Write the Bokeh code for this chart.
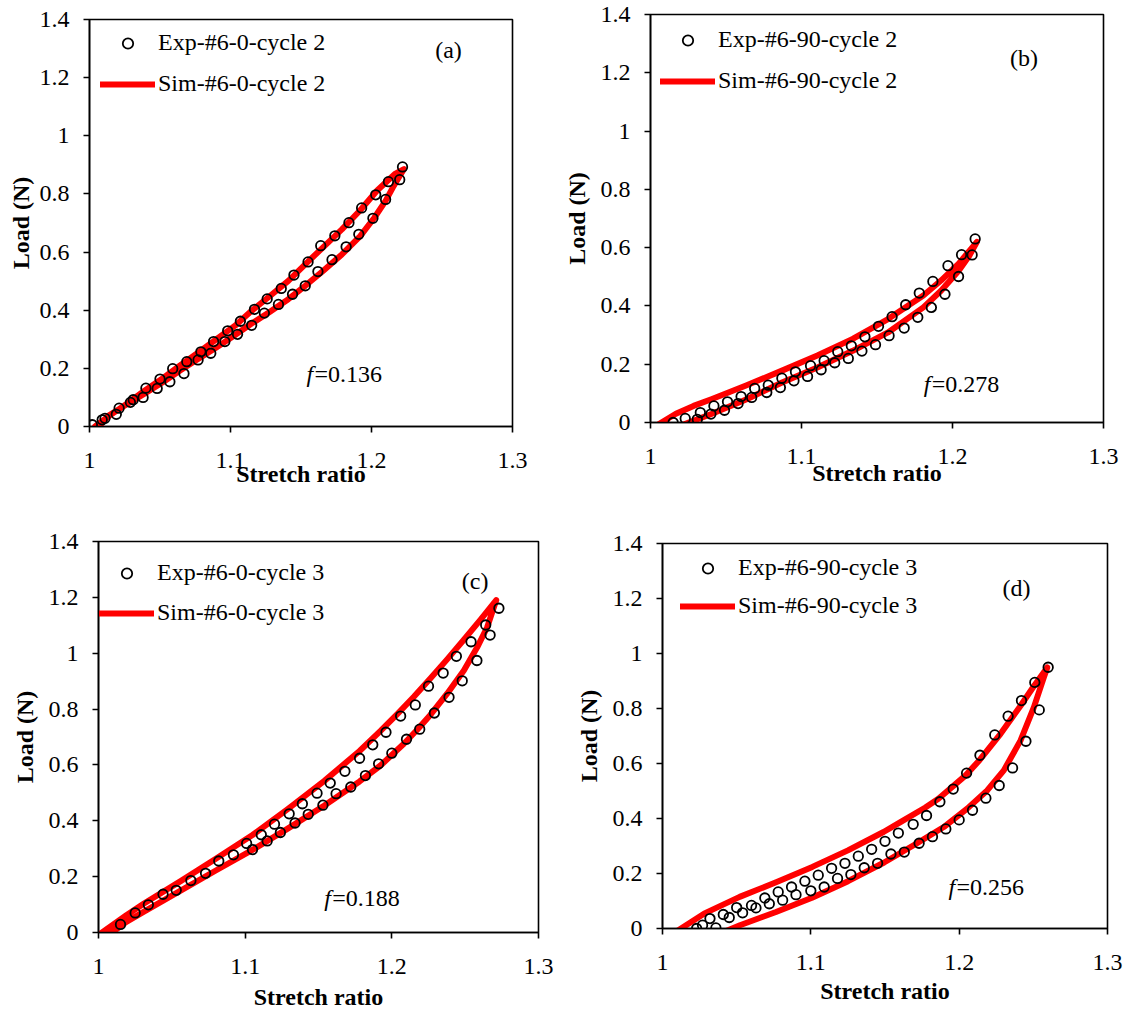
from bokeh.plotting import figure
from bokeh.models import Range1d, FixedTicker, Legend, LegendItem, Label
from bokeh.layouts import column, row
from bokeh.embed import file_html
from bokeh.resources import INLINE

# ---------------- data ----------------
x_ticks = [1.0, 1.1, 1.2, 1.3]
x_tick_labels = ["1", "1.1", "1.2", "1.3"]
y_ticks = [0.0, 0.2, 0.4, 0.6, 0.8, 1.0, 1.2, 1.4]
y_tick_labels = ["0", "0.2", "0.4", "0.6", "0.8", "1", "1.2", "1.4"]

# (a) #6-0 cycle 2
a_exp_x = [1.002, 1.011, 1.021, 1.031, 1.040, 1.050, 1.059, 1.069, 1.079, 1.088, 1.098, 1.107, 1.117, 1.126,
           1.136, 1.145, 1.155, 1.164, 1.174, 1.184, 1.193, 1.203, 1.212, 1.222,
           1.220, 1.210, 1.201, 1.191, 1.182, 1.172, 1.162, 1.153, 1.144, 1.134, 1.124, 1.115, 1.105, 1.096,
           1.086, 1.077, 1.067, 1.057, 1.048, 1.038, 1.029, 1.019, 1.009]
a_exp_y = [0.006, 0.028, 0.063, 0.092, 0.132, 0.163, 0.199, 0.223, 0.257, 0.292, 0.329, 0.362, 0.403, 0.439,
           0.475, 0.521, 0.566, 0.622, 0.656, 0.701, 0.752, 0.797, 0.842, 0.893,
           0.849, 0.781, 0.716, 0.661, 0.618, 0.574, 0.533, 0.484, 0.455, 0.420, 0.390, 0.348, 0.317, 0.292,
           0.252, 0.229, 0.182, 0.154, 0.131, 0.100, 0.083, 0.042, 0.023]
a_sim_x = [1.004, 1.013, 1.026, 1.039, 1.052, 1.064, 1.077, 1.090, 1.103, 1.115, 1.128, 1.141, 1.153, 1.166,
           1.179, 1.192, 1.204, 1.217, 1.223,
           1.220, 1.215, 1.210, 1.202, 1.192, 1.179, 1.166, 1.153, 1.141, 1.128, 1.115, 1.103, 1.090, 1.077,
           1.064, 1.052, 1.039, 1.026, 1.013, 1.007]
a_sim_y = [0.000, 0.033, 0.077, 0.123, 0.166, 0.209, 0.254, 0.300, 0.346, 0.398, 0.449, 0.501, 0.558, 0.618,
           0.678, 0.744, 0.812, 0.870, 0.885,
           0.862, 0.821, 0.776, 0.718, 0.655, 0.592, 0.537, 0.484, 0.438, 0.395, 0.354, 0.314, 0.272, 0.232,
           0.192, 0.152, 0.113, 0.075, 0.036, 0.000]

# (b) #6-90 cycle 2
b_exp_x = [1.015, 1.023, 1.033, 1.042, 1.051, 1.060, 1.069, 1.078, 1.087, 1.096, 1.106, 1.115, 1.124, 1.133,
           1.142, 1.151, 1.160, 1.169, 1.178, 1.187, 1.197, 1.206, 1.215,
           1.213, 1.204, 1.195, 1.186, 1.177, 1.168, 1.158, 1.149, 1.140, 1.131, 1.122, 1.113, 1.104, 1.095,
           1.086, 1.077, 1.067, 1.058, 1.049, 1.040, 1.031]
b_exp_y = [0.000, 0.014, 0.034, 0.057, 0.071, 0.089, 0.117, 0.128, 0.152, 0.174, 0.195, 0.212, 0.243, 0.263,
           0.294, 0.330, 0.363, 0.404, 0.444, 0.484, 0.538, 0.576, 0.630,
           0.575, 0.501, 0.440, 0.395, 0.361, 0.324, 0.298, 0.267, 0.245, 0.220, 0.205, 0.181, 0.158, 0.143,
           0.120, 0.103, 0.086, 0.065, 0.042, 0.029, 0.011]
b_sim_x = [1.0056, 1.0168, 1.0285, 1.0403, 1.0637, 1.0871, 1.1105, 1.1339, 1.1573, 1.1807, 1.1924, 1.2041, 1.2162,
           1.2111, 1.2041, 1.1924, 1.1807, 1.1573, 1.1339, 1.1105, 1.0871, 1.0637, 1.0403, 1.0227]
b_sim_y = [-0.005, 0.030, 0.057, 0.080, 0.128, 0.178, 0.230, 0.287, 0.355, 0.436, 0.487, 0.545, 0.620,
           0.572, 0.521, 0.452, 0.395, 0.309, 0.246, 0.189, 0.137, 0.080, 0.029, -0.005]

# (c) #6-0 cycle 3
c_exp_x = [1.015, 1.025, 1.034, 1.044, 1.053, 1.063, 1.073, 1.082, 1.092, 1.101, 1.111, 1.120, 1.130, 1.139,
           1.149, 1.158, 1.168, 1.178, 1.187, 1.196, 1.206, 1.216, 1.225, 1.235, 1.244, 1.254, 1.264, 1.273,
           1.267, 1.258, 1.248, 1.239, 1.229, 1.219, 1.210, 1.200, 1.191, 1.182, 1.172, 1.162, 1.153, 1.143,
           1.134, 1.124, 1.115, 1.105]
c_exp_y = [0.029, 0.070, 0.099, 0.137, 0.151, 0.186, 0.212, 0.256, 0.278, 0.319, 0.350, 0.388, 0.425, 0.461,
           0.499, 0.535, 0.577, 0.624, 0.672, 0.717, 0.775, 0.815, 0.882, 0.929, 0.989, 1.041, 1.101, 1.161,
           1.065, 0.974, 0.901, 0.842, 0.786, 0.728, 0.692, 0.642, 0.604, 0.562, 0.521, 0.497, 0.456, 0.423,
           0.392, 0.358, 0.328, 0.297]
c_sim_x = [1.001, 1.019, 1.031, 1.056, 1.080, 1.105, 1.129, 1.154, 1.178, 1.1923, 1.2037, 1.215, 1.2264,
           1.2377, 1.2491, 1.2605, 1.2712,
           1.265, 1.2582, 1.2491, 1.2377, 1.2264, 1.2173, 1.2082, 1.1923, 1.178, 1.154, 1.129, 1.105, 1.080,
           1.056, 1.031, 1.019, 1.008]
c_sim_y = [-0.005, 0.062, 0.104, 0.184, 0.264, 0.349, 0.442, 0.543, 0.650, 0.722, 0.782, 0.844, 0.910,
           0.978, 1.048, 1.120, 1.190,
           1.093, 1.021, 0.938, 0.855, 0.780, 0.726, 0.676, 0.598, 0.541, 0.455, 0.372, 0.296, 0.222,
           0.150, 0.075, 0.038, -0.005]

# (d) #6-90 cycle 3
d_exp_x = [1.023, 1.032, 1.041, 1.050, 1.060, 1.069, 1.078, 1.087, 1.096, 1.105, 1.114, 1.123, 1.132, 1.141,
           1.150, 1.159, 1.169, 1.178, 1.187, 1.196, 1.205, 1.214, 1.224, 1.233, 1.242, 1.251, 1.260,
           1.254, 1.245, 1.236, 1.227, 1.218, 1.209, 1.200, 1.191, 1.182, 1.173, 1.163, 1.154, 1.145, 1.136,
           1.127, 1.118, 1.109, 1.100, 1.090, 1.081, 1.072, 1.063, 1.054, 1.045, 1.036, 1.027]
d_exp_y = [0.000, 0.036, 0.051, 0.076, 0.084, 0.111, 0.133, 0.151, 0.172, 0.194, 0.219, 0.237, 0.263, 0.288,
           0.317, 0.347, 0.379, 0.411, 0.461, 0.507, 0.565, 0.630, 0.704, 0.772, 0.829, 0.895, 0.950,
           0.795, 0.681, 0.584, 0.520, 0.474, 0.430, 0.395, 0.362, 0.334, 0.310, 0.278, 0.271, 0.237, 0.221,
           0.196, 0.182, 0.151, 0.137, 0.123, 0.103, 0.090, 0.075, 0.057, 0.040, 0.002, 0.012]
d_sim_x = [1.0096, 1.028, 1.052, 1.077, 1.101, 1.125, 1.149, 1.1604, 1.1772, 1.186, 1.2042, 1.2137, 1.2279,
           1.2414, 1.2502, 1.2594,
           1.2571, 1.2504, 1.2414, 1.2301, 1.2189, 1.2054, 1.1896, 1.1716, 1.1494, 1.1251, 1.1008, 1.0765,
           1.0522, 1.0433]
d_sim_y = [-0.010, 0.054, 0.115, 0.169, 0.224, 0.284, 0.351, 0.387, 0.440, 0.472, 0.556, 0.612, 0.708,
           0.810, 0.880, 0.949,
           0.914, 0.805, 0.684, 0.575, 0.502, 0.436, 0.369, 0.310, 0.240, 0.172, 0.112, 0.060,
           0.012, -0.008]

exp_labels = ["Exp-#6-0-cycle 2", "Exp-#6-90-cycle 2", "Exp-#6-0-cycle 3", "Exp-#6-90-cycle 3"]
sim_labels = ["Sim-#6-0-cycle 2", "Sim-#6-90-cycle 2", "Sim-#6-0-cycle 3", "Sim-#6-90-cycle 3"]
panel_tags = ["(a)", "(b)", "(c)", "(d)"]
f_values = ["=0.136", "=0.278", "=0.188", "=0.256"]

# ---------------- style ----------------
FONT = "Liberation Serif"
FS = "24px"
RED = "#FF0000"


def make_panel(i, ex, ey, sx, sy, w, h, borders, leg_loc, leg_spacing,
               tag_xy, f_xy, xlab_standoff, ylab_standoff):
    bl, br, bt, bb = borders
    p = figure(width=w, height=h, output_backend="svg", toolbar_location=None,
               x_range=Range1d(1.0, 1.3), y_range=Range1d(0.0, 1.4),
               min_border_left=bl, min_border_right=br, min_border_top=bt, min_border_bottom=bb)
    p.frame_align = False
    p.background_fill_color = "white"
    p.border_fill_color = "white"
    p.grid.visible = False
    p.outline_line_color = "black"
    p.outline_line_width = 1.6

    for ax in (p.xaxis[0], p.yaxis[0]):
        ax.axis_line_width = 1.6
        ax.major_tick_line_width = 1.6
        ax.major_tick_in = 0
        ax.major_tick_out = 6
        ax.minor_tick_line_color = None
        ax.major_label_text_font = FONT
        ax.major_label_text_font_size = FS
        ax.major_label_text_color = "black"
        ax.axis_label_text_font = FONT
        ax.axis_label_text_font_size = FS
        ax.axis_label_text_font_style = "bold"
        ax.axis_label_text_color = "black"

    p.xaxis[0].ticker = FixedTicker(ticks=x_ticks)
    p.xaxis[0].major_label_overrides = {t: s for t, s in zip(x_ticks, x_tick_labels)}
    p.yaxis[0].ticker = FixedTicker(ticks=y_ticks)
    p.yaxis[0].major_label_overrides = {t: s for t, s in zip(y_ticks, y_tick_labels)}
    p.xaxis[0].axis_label = "Stretch ratio"
    p.yaxis[0].axis_label = "Load (N)"
    p.xaxis[0].major_label_standoff = 20
    p.yaxis[0].major_label_standoff = 14
    p.xaxis[0].axis_label_standoff = xlab_standoff
    p.yaxis[0].axis_label_standoff = ylab_standoff

    r_sim = p.line(sx, sy, line_color=RED, line_width=6, line_cap="round", line_join="round")
    r_exp = p.scatter(ex, ey, marker="circle", size=9.5, fill_color=None,
                      line_color="black", line_width=1.8)

    legend = Legend(items=[LegendItem(label=exp_labels[i], renderers=[r_exp]),
                           LegendItem(label=sim_labels[i], renderers=[r_sim])],
                    location=leg_loc, glyph_width=55, glyph_height=26, label_height=26,
                    spacing=leg_spacing, padding=0, margin=0, label_standoff=3,
                    border_line_color=None, background_fill_alpha=0,
                    label_text_font=FONT, label_text_font_size=FS, label_text_color="black")
    p.add_layout(legend)

    p.add_layout(Label(x=tag_xy[0], y=tag_xy[1], text=panel_tags[i], text_align="center",
                       text_baseline="middle", text_font=FONT, text_font_size=FS, text_color="black"))
    p.add_layout(Label(x=f_xy[0], y=f_xy[1], text="f", text_align="left", text_baseline="middle",
                       text_font=FONT, text_font_size=FS, text_font_style="italic", text_color="black"))
    p.add_layout(Label(x=f_xy[0], y=f_xy[1], x_offset=8, text=f_values[i], text_align="left",
                       text_baseline="middle", text_font=FONT, text_font_size=FS, text_color="black"))
    return p


pa = make_panel(0, a_exp_x, a_exp_y, a_sim_x, a_sim_y, 560, 500, (89, 48, 19, 74),
                (11, 329), 14, (1.2546, 1.2934), (1.1539, 0.182), -10, 3)
pb = make_panel(1, b_exp_x, b_exp_y, b_sim_x, b_sim_y, 563, 500, (82, 20, 14, 78),
                (10, 328), 14, (1.2473, 1.2523), (1.1809, 0.133), -7, 8)
pc = make_panel(2, c_exp_x, c_exp_y, c_sim_x, c_sim_y, 560, 512, (98, 22, 41, 80),
                (1, 306), 13, (1.2568, 1.2595), (1.1539, 0.1226), 7, 8)
pd = make_panel(3, d_exp_x, d_exp_y, d_sim_x, d_sim_y, 563, 512, (102, 16, 43, 84),
                (18, 309), 11, (1.2387, 1.2392), (1.1928, 0.150), 5, 8)

layout = column(row(pa, pb, spacing=0), row(pc, pd, spacing=0), spacing=0)
open("out.html", "w").write(file_html(layout, INLINE))
